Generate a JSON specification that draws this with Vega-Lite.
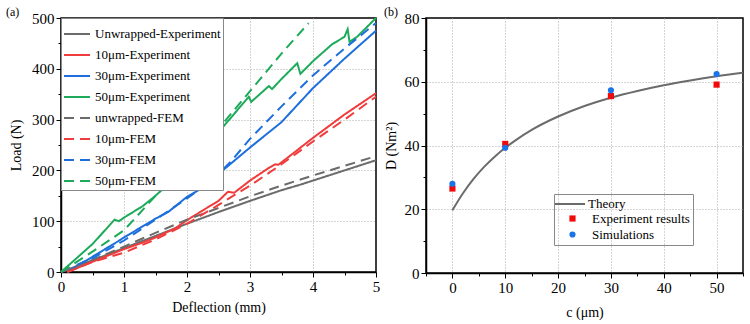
{
  "$schema": "https://vega.github.io/schema/vega-lite/v6.json",
  "spacing": 2,
  "resolve": {
    "scale": {"color": "independent", "shape": "independent", "strokeDash": "independent", "stroke": "independent", "x": "independent", "y": "independent"},
    "legend": {"color": "independent", "shape": "independent", "strokeDash": "independent", "stroke": "independent"}
  },
  "config": {
    "font": "Liberation Serif",
    "view": {"stroke": "black", "strokeWidth": 1.5},
    "axis": {
      "domainColor": "black",
      "domainWidth": 1.5,
      "tickColor": "black",
      "tickWidth": 1,
      "labelFont": "Liberation Serif",
      "labelFontSize": 15,
      "labelColor": "black",
      "labelPadding": 2,
      "labelFlush": false,
      "titleFont": "Liberation Serif",
      "titleFontSize": 14,
      "titleFontWeight": "normal",
      "titleColor": "black",
      "gridColor": "#aaaaaa",
      "gridDash": [1, 2],
      "gridWidth": 1
    },
    "legend": {
      "labelFont": "Liberation Serif",
      "labelColor": "black",
      "labelFontSize": 13
    },
    "title": {"font": "Liberation Serif", "fontSize": 12, "fontWeight": "normal", "color": "black"}
  },
  "hconcat": [
    {
      "width": 315,
      "height": 254,
      "title": {"text": "(a)", "anchor": "start", "frame": "group", "dx": -55, "dy": 12},
      "resolve": {"axis": {"x": "independent", "y": "independent"}},
      "data": {
        "values": [
          {"d": 0, "L": 0, "s": "Unwrapped-Experiment"},
          {"d": 0.5, "L": 23, "s": "Unwrapped-Experiment"},
          {"d": 1, "L": 47, "s": "Unwrapped-Experiment"},
          {"d": 1.5, "L": 71, "s": "Unwrapped-Experiment"},
          {"d": 2, "L": 95, "s": "Unwrapped-Experiment"},
          {"d": 2.5, "L": 118, "s": "Unwrapped-Experiment"},
          {"d": 3, "L": 140, "s": "Unwrapped-Experiment"},
          {"d": 3.5, "L": 161, "s": "Unwrapped-Experiment"},
          {"d": 3.8, "L": 172, "s": "Unwrapped-Experiment"},
          {"d": 4, "L": 180, "s": "Unwrapped-Experiment"},
          {"d": 4.5, "L": 200, "s": "Unwrapped-Experiment"},
          {"d": 5, "L": 220, "s": "Unwrapped-Experiment"},

          {"d": 0.1, "L": 0, "s": "10μm-Experiment"},
          {"d": 0.4, "L": 15, "s": "10μm-Experiment"},
          {"d": 0.7, "L": 30, "s": "10μm-Experiment"},
          {"d": 1, "L": 45, "s": "10μm-Experiment"},
          {"d": 1.3, "L": 58, "s": "10μm-Experiment"},
          {"d": 1.5, "L": 68, "s": "10μm-Experiment"},
          {"d": 1.8, "L": 85, "s": "10μm-Experiment"},
          {"d": 2, "L": 102, "s": "10μm-Experiment"},
          {"d": 2.3, "L": 125, "s": "10μm-Experiment"},
          {"d": 2.5, "L": 140, "s": "10μm-Experiment"},
          {"d": 2.65, "L": 158, "s": "10μm-Experiment"},
          {"d": 2.75, "L": 156, "s": "10μm-Experiment"},
          {"d": 3, "L": 180, "s": "10μm-Experiment"},
          {"d": 3.3, "L": 205, "s": "10μm-Experiment"},
          {"d": 3.4, "L": 212, "s": "10μm-Experiment"},
          {"d": 3.45, "L": 211, "s": "10μm-Experiment"},
          {"d": 3.7, "L": 235, "s": "10μm-Experiment"},
          {"d": 4, "L": 264, "s": "10μm-Experiment"},
          {"d": 4.5, "L": 310, "s": "10μm-Experiment"},
          {"d": 5, "L": 352, "s": "10μm-Experiment"},

          {"d": 0.1, "L": 0, "s": "30μm-Experiment"},
          {"d": 0.5, "L": 30, "s": "30μm-Experiment"},
          {"d": 0.9, "L": 60, "s": "30μm-Experiment"},
          {"d": 1, "L": 68, "s": "30μm-Experiment"},
          {"d": 1.5, "L": 105, "s": "30μm-Experiment"},
          {"d": 1.7, "L": 118, "s": "30μm-Experiment"},
          {"d": 2, "L": 148, "s": "30μm-Experiment"},
          {"d": 2.2, "L": 162, "s": "30μm-Experiment"},
          {"d": 2.5, "L": 193, "s": "30μm-Experiment"},
          {"d": 3, "L": 245, "s": "30μm-Experiment"},
          {"d": 3.4, "L": 285, "s": "30μm-Experiment"},
          {"d": 3.5, "L": 295, "s": "30μm-Experiment"},
          {"d": 4, "L": 362, "s": "30μm-Experiment"},
          {"d": 4.5, "L": 420, "s": "30μm-Experiment"},
          {"d": 5, "L": 475, "s": "30μm-Experiment"},

          {"d": 0, "L": 0, "s": "50μm-Experiment"},
          {"d": 0.5, "L": 55, "s": "50μm-Experiment"},
          {"d": 0.85, "L": 103, "s": "50μm-Experiment"},
          {"d": 0.92, "L": 100, "s": "50μm-Experiment"},
          {"d": 1, "L": 107, "s": "50μm-Experiment"},
          {"d": 1.3, "L": 130, "s": "50μm-Experiment"},
          {"d": 1.5, "L": 150, "s": "50μm-Experiment"},
          {"d": 1.8, "L": 185, "s": "50μm-Experiment"},
          {"d": 2, "L": 210, "s": "50μm-Experiment"},
          {"d": 2.5, "L": 275, "s": "50μm-Experiment"},
          {"d": 2.98, "L": 345, "s": "50μm-Experiment"},
          {"d": 3.02, "L": 335, "s": "50μm-Experiment"},
          {"d": 3.3, "L": 366, "s": "50μm-Experiment"},
          {"d": 3.35, "L": 360, "s": "50μm-Experiment"},
          {"d": 3.5, "L": 380, "s": "50μm-Experiment"},
          {"d": 3.75, "L": 411, "s": "50μm-Experiment"},
          {"d": 3.8, "L": 390, "s": "50μm-Experiment"},
          {"d": 4, "L": 415, "s": "50μm-Experiment"},
          {"d": 4.3, "L": 448, "s": "50μm-Experiment"},
          {"d": 4.5, "L": 463, "s": "50μm-Experiment"},
          {"d": 4.55, "L": 478, "s": "50μm-Experiment"},
          {"d": 4.58, "L": 453, "s": "50μm-Experiment"},
          {"d": 4.7, "L": 463, "s": "50μm-Experiment"},
          {"d": 5, "L": 500, "s": "50μm-Experiment"},

          {"d": 0, "L": 0, "s": "unwrapped-FEM"},
          {"d": 0.5, "L": 24, "s": "unwrapped-FEM"},
          {"d": 1, "L": 50, "s": "unwrapped-FEM"},
          {"d": 1.5, "L": 77, "s": "unwrapped-FEM"},
          {"d": 2, "L": 103, "s": "unwrapped-FEM"},
          {"d": 2.5, "L": 126, "s": "unwrapped-FEM"},
          {"d": 3, "L": 149, "s": "unwrapped-FEM"},
          {"d": 3.5, "L": 170, "s": "unwrapped-FEM"},
          {"d": 4, "L": 190, "s": "unwrapped-FEM"},
          {"d": 4.5, "L": 209, "s": "unwrapped-FEM"},
          {"d": 5, "L": 228, "s": "unwrapped-FEM"},

          {"d": 0.1, "L": 0, "s": "10μm-FEM"},
          {"d": 0.5, "L": 20, "s": "10μm-FEM"},
          {"d": 1, "L": 38, "s": "10μm-FEM"},
          {"d": 1.5, "L": 64, "s": "10μm-FEM"},
          {"d": 2, "L": 95, "s": "10μm-FEM"},
          {"d": 2.5, "L": 132, "s": "10μm-FEM"},
          {"d": 2.8, "L": 155, "s": "10μm-FEM"},
          {"d": 3, "L": 170, "s": "10μm-FEM"},
          {"d": 3.5, "L": 212, "s": "10μm-FEM"},
          {"d": 4, "L": 257, "s": "10μm-FEM"},
          {"d": 4.5, "L": 300, "s": "10μm-FEM"},
          {"d": 5, "L": 345, "s": "10μm-FEM"},

          {"d": 0.25, "L": 14, "s": "30μm-FEM"},
          {"d": 0.5, "L": 27, "s": "30μm-FEM"},
          {"d": 1, "L": 62, "s": "30μm-FEM"},
          {"d": 1.5, "L": 103, "s": "30μm-FEM"},
          {"d": 2, "L": 145, "s": "30μm-FEM"},
          {"d": 2.4, "L": 180, "s": "30μm-FEM"},
          {"d": 2.7, "L": 218, "s": "30μm-FEM"},
          {"d": 3, "L": 262, "s": "30μm-FEM"},
          {"d": 3.5, "L": 326, "s": "30μm-FEM"},
          {"d": 4, "L": 387, "s": "30μm-FEM"},
          {"d": 4.5, "L": 440, "s": "30μm-FEM"},
          {"d": 5, "L": 490, "s": "30μm-FEM"},

          {"d": 0, "L": 0, "s": "50μm-FEM"},
          {"d": 0.5, "L": 40, "s": "50μm-FEM"},
          {"d": 1, "L": 82, "s": "50μm-FEM"},
          {"d": 1.5, "L": 150, "s": "50μm-FEM"},
          {"d": 2, "L": 212, "s": "50μm-FEM"},
          {"d": 2.5, "L": 282, "s": "50μm-FEM"},
          {"d": 3, "L": 356, "s": "50μm-FEM"},
          {"d": 3.5, "L": 430, "s": "50μm-FEM"},
          {"d": 3.93, "L": 490, "s": "50μm-FEM"}
        ]
      },
      "layer": [
        {
          "mark": {"type": "point", "opacity": 0},
          "encoding": {
            "x": {"field": "d", "type": "quantitative", "scale": {"domain": [0, 5], "nice": false},
              "axis": {"orient": "bottom", "values": [1, 2, 3, 4], "grid": true, "labels": false, "ticks": false, "domain": false, "title": null}},
            "y": {"field": "L", "type": "quantitative", "scale": {"domain": [0, 500], "nice": false},
              "axis": {"orient": "left", "values": [100, 200, 300, 400], "grid": true, "labels": false, "ticks": false, "domain": false, "title": null}}
          }
        },
        {
          "mark": {"type": "point", "opacity": 0},
          "encoding": {
            "x": {"field": "d", "type": "quantitative",
              "axis": {"orient": "bottom", "values": [0.5, 1.5, 2.5, 3.5, 4.5], "grid": false, "labels": false, "ticks": true, "tickSize": 3, "domain": false, "title": null}},
            "y": {"field": "L", "type": "quantitative",
              "axis": {"orient": "left", "values": [50, 150, 250, 350, 450], "grid": false, "labels": false, "ticks": true, "tickSize": 3, "domain": false, "title": null}}
          }
        },
        {
          "mark": {"type": "line", "strokeWidth": 2},
          "encoding": {
            "x": {"field": "d", "type": "quantitative",
              "axis": {"orient": "bottom", "title": "Deflection (mm)", "values": [0, 1, 2, 3, 4, 5], "format": "d", "grid": false, "tickSize": 5, "titlePadding": 6}},
            "y": {"field": "L", "type": "quantitative",
              "axis": {"orient": "left", "title": "Load (N)", "values": [0, 100, 200, 300, 400, 500], "format": "d", "grid": false, "tickSize": 5, "titlePadding": 8}},
            "color": {
              "field": "s", "type": "nominal",
              "scale": {
                "domain": ["Unwrapped-Experiment", "10μm-Experiment", "30μm-Experiment", "50μm-Experiment", "unwrapped-FEM", "10μm-FEM", "30μm-FEM", "50μm-FEM"],
                "range": ["#6b6b6b", "#f03c3c", "#1e6fdc", "#1daa5a", "#6b6b6b", "#f03c3c", "#1e6fdc", "#1daa5a"]
              },
              "legend": {"title": null, "orient": "top-left", "offset": 0, "symbolType": "stroke", "symbolSize": 676, "symbolStrokeWidth": 2, "labelOffset": 4,
                "rowPadding": -11, "padding": 2, "fillColor": "white", "strokeColor": "#888888"}
            },
            "strokeDash": {
              "field": "s", "type": "nominal",
              "scale": {
                "domain": ["Unwrapped-Experiment", "10μm-Experiment", "30μm-Experiment", "50μm-Experiment", "unwrapped-FEM", "10μm-FEM", "30μm-FEM", "50μm-FEM"],
                "range": [[1, 0], [1, 0], [1, 0], [1, 0], [10, 6], [10, 6], [10, 6], [10, 6]]
              },
              "legend": {"title": null, "orient": "top-left", "offset": 0, "symbolType": "stroke", "symbolSize": 676, "symbolStrokeWidth": 2, "labelOffset": 4,
                "rowPadding": -11, "padding": 2, "fillColor": "white", "strokeColor": "#888888"}
            }
          }
        }
      ]
    },
    {
      "width": 317,
      "height": 255,
      "title": {"text": "(b)", "anchor": "start", "frame": "group", "dx": -42, "dy": 12},
      "resolve": {"axis": {"x": "independent", "y": "independent"}},
      "layer": [
        {
          "data": {"values": [{"c": 0, "D": 0}]},
          "mark": {"type": "point", "opacity": 0},
          "encoding": {
            "x": {"field": "c", "type": "quantitative", "scale": {"domain": [-5, 55], "nice": false},
              "axis": {"orient": "bottom", "values": [0, 10, 20, 30, 40, 50], "grid": true, "labels": false, "ticks": false, "domain": false, "title": null}},
            "y": {"field": "D", "type": "quantitative", "scale": {"domain": [0, 80], "nice": false},
              "axis": {"orient": "left", "values": [20, 40, 60], "grid": true, "labels": false, "ticks": false, "domain": false, "title": null}}
          }
        },
        {
          "data": {"values": [{"c": 0, "D": 0}]},
          "mark": {"type": "point", "opacity": 0},
          "encoding": {
            "x": {"field": "c", "type": "quantitative",
              "axis": {"orient": "bottom", "values": [-5, 5, 15, 25, 35, 45, 55], "grid": false, "labels": false, "ticks": true, "tickSize": 3, "domain": false, "title": null}},
            "y": {"field": "D", "type": "quantitative",
              "axis": {"orient": "left", "values": [10, 30, 50, 70], "grid": false, "labels": false, "ticks": true, "tickSize": 3, "domain": false, "title": null}}
          }
        },
        {
          "data": {
            "values": [
              {"c": 0, "D": 19.7, "series": "Theory"},
              {"c": 2, "D": 25.0, "series": "Theory"},
              {"c": 4, "D": 29.5, "series": "Theory"},
              {"c": 6, "D": 33.3, "series": "Theory"},
              {"c": 8, "D": 36.5, "series": "Theory"},
              {"c": 10, "D": 39.3, "series": "Theory"},
              {"c": 12, "D": 41.7, "series": "Theory"},
              {"c": 15, "D": 44.9, "series": "Theory"},
              {"c": 20, "D": 49.1, "series": "Theory"},
              {"c": 25, "D": 52.4, "series": "Theory"},
              {"c": 30, "D": 55.0, "series": "Theory"},
              {"c": 35, "D": 57.1, "series": "Theory"},
              {"c": 40, "D": 58.9, "series": "Theory"},
              {"c": 45, "D": 60.4, "series": "Theory"},
              {"c": 50, "D": 61.7, "series": "Theory"},
              {"c": 55, "D": 62.8, "series": "Theory"}
            ]
          },
          "mark": {"type": "line", "strokeWidth": 2, "interpolate": "monotone"},
          "encoding": {
            "x": {"field": "c", "type": "quantitative",
              "axis": {"orient": "bottom", "title": "c (μm)", "values": [0, 10, 20, 30, 40, 50], "format": "d", "grid": false, "tickSize": 5, "titlePadding": 10}},
            "y": {"field": "D", "type": "quantitative",
              "axis": {"orient": "left", "title": "D (Nm²)", "values": [0, 20, 40, 60, 80], "format": "d", "grid": false, "tickSize": 5, "titlePadding": 6}},
            "stroke": {"field": "series", "type": "nominal",
              "scale": {"domain": ["Theory"], "range": ["#6b6b6b"]},
              "legend": {"title": null, "orient": "none", "legendX": 128, "legendY": 170, "symbolType": "stroke", "symbolSize": 900, "symbolStrokeWidth": 2, "labelOffset": 2, "padding": 0}}
          }
        },
        {
          "data": {
            "values": [
              {"c": 0, "D": 26.5, "series": "Experiment results"},
              {"c": 10, "D": 40.5, "series": "Experiment results"},
              {"c": 30, "D": 55.5, "series": "Experiment results"},
              {"c": 50, "D": 59.1, "series": "Experiment results"},
              {"c": 0, "D": 28.0, "series": "Simulations"},
              {"c": 10, "D": 39.3, "series": "Simulations"},
              {"c": 30, "D": 57.3, "series": "Simulations"},
              {"c": 50, "D": 62.4, "series": "Simulations"}
            ]
          },
          "mark": {"type": "point", "filled": true, "opacity": 1, "size": 38},
          "encoding": {
            "x": {"field": "c", "type": "quantitative", "axis": null},
            "y": {"field": "D", "type": "quantitative", "axis": null},
            "color": {"field": "series", "type": "nominal",
              "scale": {"domain": ["Experiment results", "Simulations"], "range": ["#f00a0a", "#1a73e8"]},
              "legend": {"title": " ", "titleFontSize": 12, "titlePadding": 3, "orient": "none", "legendX": 128, "legendY": 176,
                "symbolSize": 38, "symbolOffset": 9, "labelOffset": 13, "padding": 3, "rowPadding": 2, "strokeColor": "#888888"}},
            "shape": {"field": "series", "type": "nominal",
              "scale": {"domain": ["Experiment results", "Simulations"], "range": ["square", "circle"]},
              "legend": {"title": " ", "titleFontSize": 12, "titlePadding": 3, "orient": "none", "legendX": 128, "legendY": 176,
                "symbolSize": 38, "symbolOffset": 9, "labelOffset": 13, "padding": 3, "rowPadding": 2, "strokeColor": "#888888"}}
          }
        }
      ]
    }
  ]
}
